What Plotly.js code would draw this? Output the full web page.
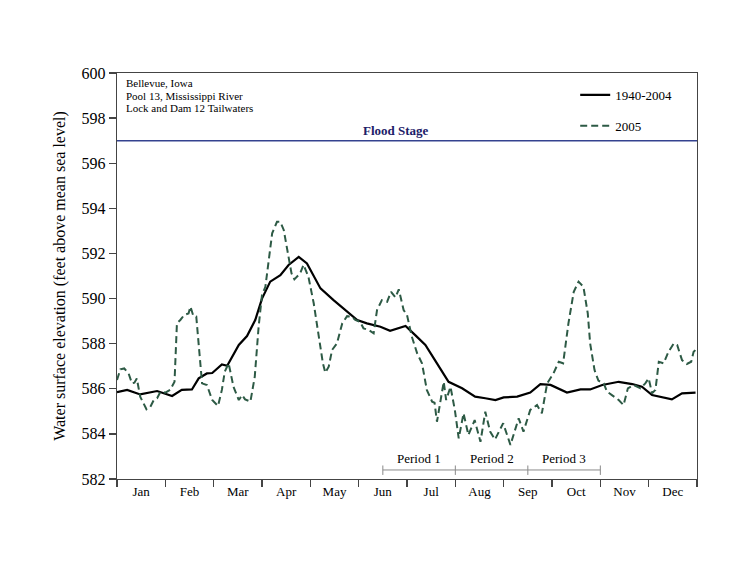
<!DOCTYPE html>
<html>
<head>
<meta charset="utf-8">
<script src="https://cdn.plot.ly/plotly-3.0.1.min.js"></script>
<style>
  body { margin: 0; background: #fff; }
  #chart { width: 740px; height: 572px; }
</style>
</head>
<body>
<div id="chart"></div>
<script>
// x is in months from Jan 1 (0 = start of Jan, 12 = end of Dec)
var months = ["Jan", "Feb", "Mar", "Apr", "May", "Jun", "Jul", "Aug", "Sep", "Oct", "Nov", "Dec"];

// 1940-2004 average stage
var avgX = [0.00, 0.21, 0.48, 0.83, 1.14, 1.34, 1.55, 1.69, 1.86, 1.97, 2.17, 2.28, 2.52, 2.69, 2.86,
  3.00, 3.17, 3.38, 3.55, 3.76, 3.93, 4.21, 4.48, 4.76, 4.97, 5.17, 5.45, 5.65, 5.86, 5.97, 6.17, 6.38,
  6.62, 6.86, 7.14, 7.41, 7.62, 7.83, 8.00, 8.28, 8.55, 8.76, 8.97, 9.31, 9.59, 9.79, 10.04, 10.38,
  10.66, 10.86, 11.07, 11.48, 11.69, 11.97];
var avgY = [585.85, 585.95, 585.75, 585.90, 585.68, 585.95, 585.97, 586.46, 586.68, 586.70, 587.08,
  587.02, 587.94, 588.34, 589.05, 590.00, 590.75, 591.04, 591.49, 591.85, 591.56, 590.45, 589.93,
  589.42, 589.05, 588.90, 588.75, 588.57, 588.72, 588.78, 588.38, 587.94, 587.13, 586.31, 586.02,
  585.65, 585.58, 585.50, 585.62, 585.65, 585.83, 586.21, 586.17, 585.83, 585.97, 585.97, 586.17,
  586.31, 586.21, 586.09, 585.72, 585.53, 585.80, 585.83];

// 2005 stage
var y2005X = [0.00, 0.07, 0.15, 0.24, 0.31, 0.36, 0.41, 0.48, 0.61, 0.69, 0.76, 0.83, 0.90, 1.00, 1.10,
  1.19, 1.24, 1.31, 1.39, 1.48, 1.52, 1.58, 1.64, 1.69, 1.76, 1.86, 1.97, 2.09, 2.17, 2.23, 2.31,
  2.41, 2.52, 2.59, 2.65, 2.76, 2.85, 2.93, 3.00, 3.07, 3.14, 3.21, 3.31, 3.38, 3.45, 3.54, 3.61,
  3.67, 3.79, 3.86, 3.96, 4.07, 4.17, 4.26, 4.31, 4.38, 4.45, 4.55, 4.66, 4.76, 4.86, 4.93, 5.03,
  5.10, 5.21, 5.31, 5.38, 5.48, 5.59, 5.67, 5.76, 5.83, 5.93, 6.00, 6.10, 6.21, 6.31, 6.41, 6.52,
  6.57, 6.62, 6.69, 6.76, 6.81, 6.90, 6.99, 7.07, 7.17, 7.27, 7.40, 7.52, 7.62, 7.72, 7.82, 7.99,
  8.14, 8.31, 8.41, 8.55, 8.69, 8.79, 8.90, 9.03, 9.14, 9.23, 9.34, 9.45, 9.55, 9.65, 9.74, 9.79,
  9.88, 9.96, 10.07, 10.14, 10.24, 10.38, 10.48, 10.57, 10.69, 10.83, 10.93, 11.00, 11.07, 11.14,
  11.21, 11.31, 11.41, 11.52, 11.59, 11.69, 11.79, 11.88, 11.93, 11.97];
var y2005Y = [586.39, 586.86, 586.90, 586.68, 586.24, 586.27, 586.46, 585.65, 585.09, 585.20, 585.50,
  585.58, 585.87, 585.83, 585.95, 586.31, 588.90, 589.05, 589.27, 589.34, 589.64, 589.22, 589.20,
  588.00, 586.24, 586.17, 585.50, 585.24, 585.95, 586.76, 587.13, 586.09, 585.50, 585.72, 585.53,
  585.43, 586.53, 588.75, 590.16, 590.52, 591.85, 592.89, 593.40, 593.40, 593.04, 591.85, 591.12,
  590.85, 591.12, 591.50, 590.97, 589.79, 588.31, 587.13, 586.71, 586.98, 587.72, 588.01, 588.90,
  589.22, 589.19, 589.05, 588.97, 588.68, 588.60, 588.46, 589.49, 589.93, 589.86, 590.30, 590.05,
  590.41, 589.49, 589.27, 588.31, 587.57, 587.13, 585.95, 585.43, 585.38, 584.54, 585.50, 586.31,
  585.50, 586.09, 585.06, 583.80, 584.91, 583.95, 584.61, 583.65, 584.98, 584.10, 583.75, 584.47,
  583.51, 584.69, 584.10, 585.06, 585.28, 584.91, 586.24, 586.68, 587.20, 587.13, 588.90, 590.30,
  590.75, 590.52, 589.34, 588.00, 586.83, 586.36, 586.24, 585.87, 585.72, 585.50, 585.28, 586.02,
  586.17, 586.02, 586.24, 586.46, 585.80, 585.95, 587.20, 587.13, 587.64, 588.01, 587.94, 587.27,
  587.10, 587.20, 587.64, 587.72];

var floodStage = 597;
var periodNames = ["Period 1", "Period 2", "Period 3"];
var periodBounds = [5.5, 7.0, 8.5, 10.0];
var siteLines = ["Bellevue, Iowa", "Pool 13, Mississippi River", "Lock and Dam 12 Tailwaters"];

var serif = "'Liberation Serif', 'Times New Roman', Times, serif";

var traces = [
  {
    x: avgX, y: avgY, name: "1940-2004", type: "scatter", mode: "lines",
    line: { color: "#000000", width: 2.2 }, legendgroup: "a"
  },
  {
    x: y2005X, y: y2005Y, name: "2005", type: "scatter", mode: "lines",
    line: { color: "#2d5a45", width: 2, dash: "7px,4px" }, legendgroup: "b"
  }
];

var shapes = [
  { type: "line", xref: "paper", x0: 0, x1: 1, yref: "y", y0: floodStage, y1: floodStage,
    line: { color: "#34428f", width: 1.5 } }
];
var annotations = [
  { text: "<b>Flood Stage</b>", x: 5.78, y: floodStage + 0.47, xref: "x", yref: "y",
    showarrow: false, font: { family: serif, size: 13, color: "#1c2068" } }
];

// period brackets along the bottom
for (var i = 0; i < periodNames.length; i++) {
  shapes.push({ type: "line", x0: periodBounds[i], x1: periodBounds[i + 1], y0: 582.4, y1: 582.4,
    line: { color: "#8a8a8a", width: 1 } });
  annotations.push({ text: periodNames[i], x: (periodBounds[i] + periodBounds[i + 1]) / 2, y: 582.93,
    showarrow: false, font: { family: serif, size: 13, color: "#000" } });
}
periodBounds.forEach(function(b) {
  shapes.push({ type: "line", x0: b, x1: b, y0: 582.18, y1: 582.6,
    line: { color: "#8a8a8a", width: 1 } });
});

siteLines.forEach(function(t, k) {
  annotations.push({ text: t, xref: "paper", yref: "paper", x: 0.012, y: 0.975 - k * 0.0305,
    xanchor: "left", yanchor: "middle", showarrow: false,
    font: { family: serif, size: 11, color: "#000" } });
});

var layout = {
  width: 740,
  height: 572,
  margin: { l: 117, r: 43, t: 73, b: 93, pad: 0 },
  paper_bgcolor: "#fff",
  plot_bgcolor: "#fff",
  font: { family: serif, color: "#000" },
  showlegend: true,
  legend: {
    x: 0.79, y: 0.983, xanchor: "left", yanchor: "top",
    bgcolor: "rgba(0,0,0,0)", tracegroupgap: 11,
    font: { family: serif, size: 13 }
  },
  xaxis: {
    range: [0, 12],
    tickvals: [0.5, 1.5, 2.5, 3.5, 4.5, 5.5, 6.5, 7.5, 8.5, 9.5, 10.5, 11.5],
    ticktext: months,
    ticks: "",
    tickfont: { family: serif, size: 13 },
    showgrid: false, zeroline: false,
    showline: true, linecolor: "#444", linewidth: 1.3, mirror: true,
    minor: { tick0: 0, dtick: 1, ticks: "outside", ticklen: 7, tickcolor: "#444", tickwidth: 1.3, showgrid: false },
    fixedrange: true
  },
  yaxis: {
    range: [582, 600],
    dtick: 2,
    ticks: "outside", ticklen: 7, tickcolor: "#444", tickwidth: 1.3,
    tickfont: { family: serif, size: 16 },
    showgrid: false, zeroline: false,
    showline: true, linecolor: "#444", linewidth: 1.3, mirror: true,
    title: { text: "Water surface elevation (feet above mean sea level)", font: { family: serif, size: 16 }, standoff: 12 },
    fixedrange: true
  },
  shapes: shapes,
  annotations: annotations
};

Plotly.newPlot("chart", traces, layout, { displayModeBar: false, staticPlot: true });
</script>
</body>
</html>
